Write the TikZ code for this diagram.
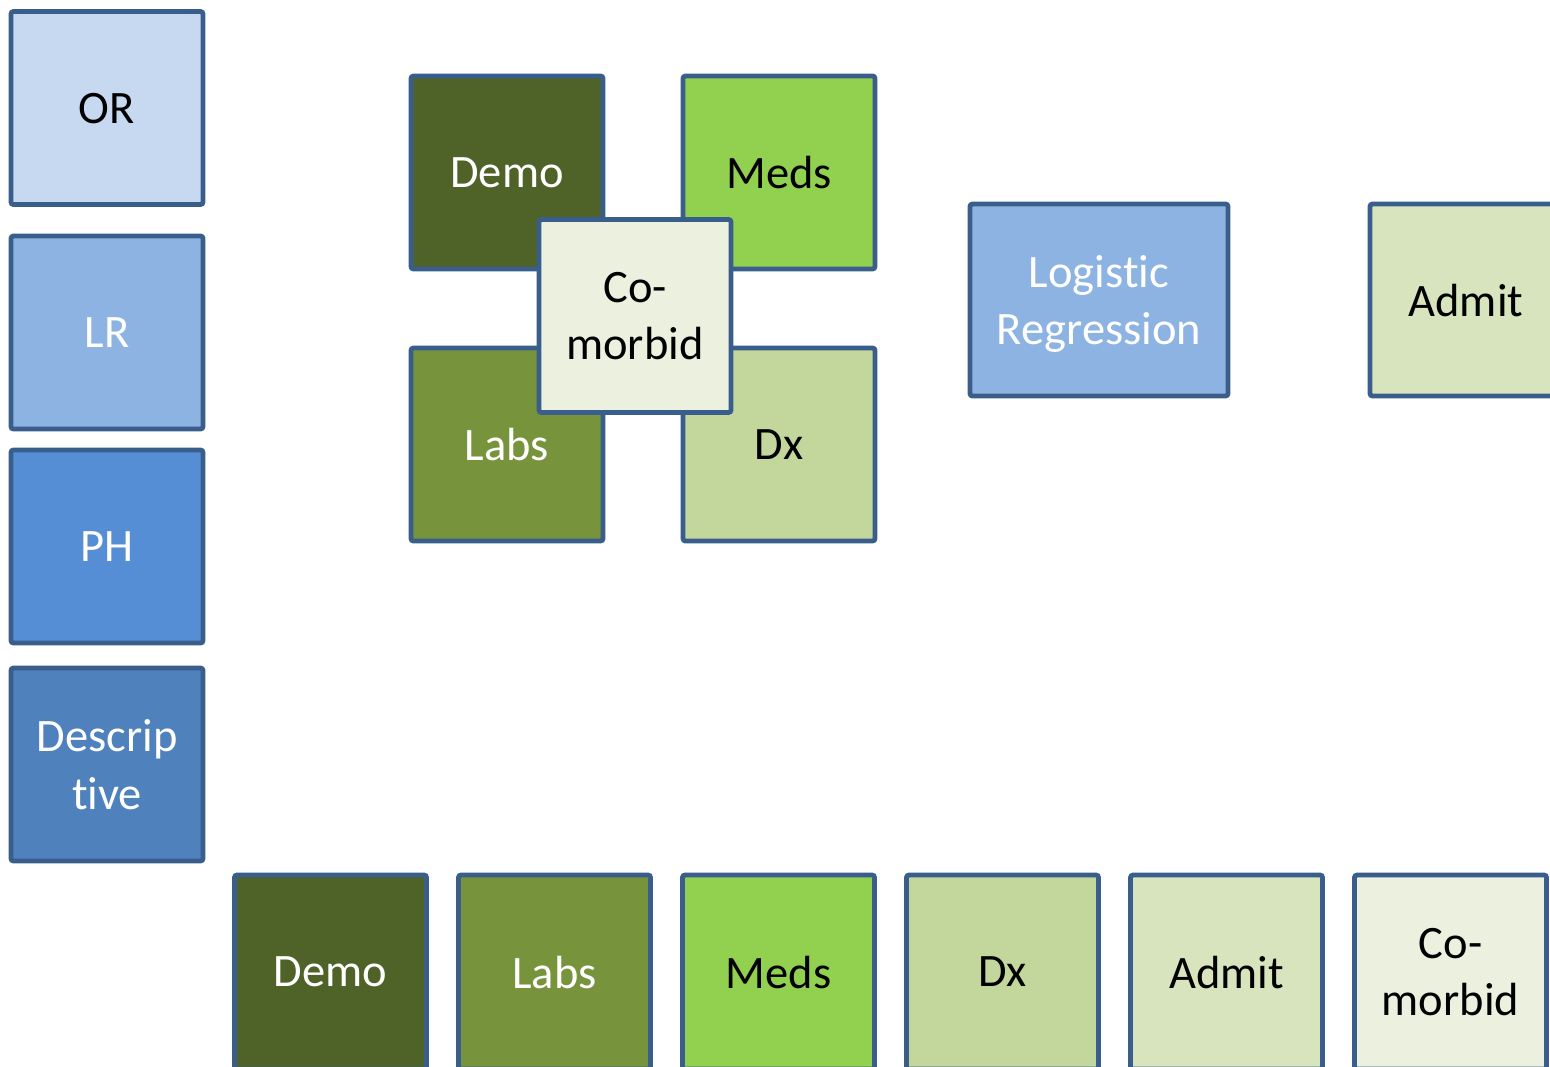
\documentclass[tikz,border=0pt]{standalone}
\usepackage{fontspec}
\setmainfont{Carlito}[RawFeature={-liga;-clig}]
\definecolor{bord}{HTML}{3A5E8C}
\definecolor{cOR}{HTML}{C6D9F1}
\definecolor{cLR}{HTML}{8DB3E2}
\definecolor{cPH}{HTML}{558ED5}
\definecolor{cDS}{HTML}{4F81BD}
\definecolor{cDemo}{HTML}{4F6228}
\definecolor{cLabs}{HTML}{77933C}
\definecolor{cMeds}{HTML}{92D050}
\definecolor{cDx}{HTML}{C3D69B}
\definecolor{cAdmit}{HTML}{D7E4BD}
\definecolor{cCo}{HTML}{EBF1DE}
\tikzset{
  box/.style={draw=bord, line width=4.8pt, rounded corners=2.5pt, rectangle,
    minimum width=192pt, minimum height=193pt, inner sep=0pt,
    align=center, text depth=0pt,
    font=\fontsize{46.5}{57.5}\selectfont},
  wbox/.style={box, fill=#1, text=white},
  kbox/.style={box, fill=#1, text=black}
}
\begin{document}
\begin{tikzpicture}[x=1pt,y=-1pt]
\useasboundingbox[fill=white] (0,0) rectangle (1550,1066);
% left column
\node[kbox=cOR] (or) at (107,108) {OR};
\node[wbox=cLR] (lr) at (107,332.5) {LR};
\node[wbox=cPH] (ph) at (107,546.5) {PH};
\node[wbox=cDS] (desc) at (107,764.5) {Descrip\\tive};
% cluster
\node[wbox=cDemo] (demo1) at (507,172.5) {Demo};
\node[kbox=cMeds] (meds1) at (779,172.5) {Meds};
\node[wbox=cLabs] (labs1) at (507,444.5) {Labs};
\node[kbox=cDx] (dx1) at (779,444.5) {Dx};
\node[kbox=cCo] (co1) at (635,316) {Co-\\morbid};
% logistic regression
\node[wbox=cLR, minimum width=258pt, minimum height=192pt] (logreg) at (1099,300) {Logistic\\Regression};
% admit top right
\node[kbox=cAdmit, minimum height=192pt] (admit1) at (1466,300) {Admit};
% bottom row
\node[wbox=cDemo, minimum height=194pt] (demo2) at (330.5,972) {Demo};
\node[wbox=cLabs, minimum height=194pt] (labs2) at (554.5,972) {Labs};
\node[kbox=cMeds, minimum height=194pt] (meds2) at (778.5,972) {Meds};
\node[kbox=cDx, minimum height=194pt] (dx2) at (1002.5,972) {Dx};
\node[kbox=cAdmit, minimum height=194pt] (admit2) at (1226.5,972) {Admit};
\node[kbox=cCo, minimum height=194pt] (co2) at (1450.5,972) {Co-\\morbid};
\end{tikzpicture}
\end{document}
